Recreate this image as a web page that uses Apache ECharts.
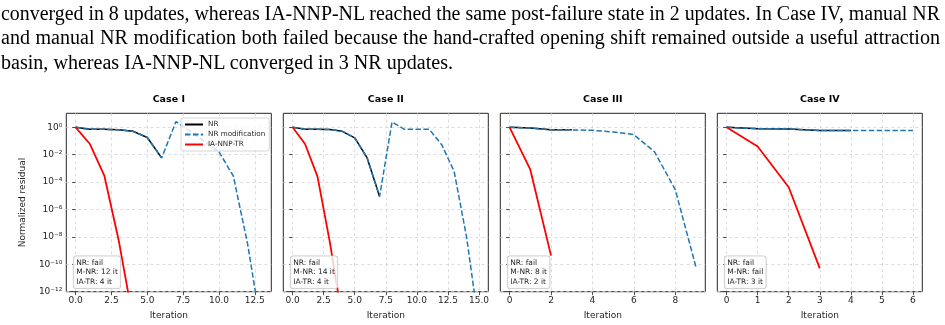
<!DOCTYPE html>
<html>
<head>
    <meta charset="utf-8">
    <title>Residual convergence</title>
    <script src="https://cdn.jsdelivr.net/npm/echarts@6.0.0/dist/echarts.min.js"></script>
    <style>
        html, body { margin: 0; padding: 0; background: #fff; }
        #chart { position: absolute; left: 0; top: 0; width: 945px; height: 325px; }
        #para {
            position: absolute; left: 1px; top: 1px; width: 945px;
            font-family: "Liberation Serif", "DejaVu Serif", serif;
            font-size: 20px; line-height: 24.3px; color: #000; z-index: 2;
        }
        #para .ln { white-space: nowrap; height: 24.3px; }
        #para .ln span { display: inline-block; transform-origin: 0 0; }
    </style>
</head>
<body>
<div id="para">
    <div class="ln"><span>converged in 8 updates, whereas IA-NNP-NL reached the same post-failure state in 2 updates. In Case IV, manual NR</span></div>
    <div class="ln"><span>and manual NR modification both failed because the hand-crafted opening shift remained outside a useful attraction</span></div>
    <div class="ln"><span>basin, whereas IA-NNP-NL converged in 3 NR updates.</span></div>
</div>
<div id="chart"></div>

<script>
    // 数据：每个 case 的归一化残差（按迭代次数）
    const caseNames = ['Case I', 'Case II', 'Case III', 'Case IV'];
    const caseNotes = [
        'NR: fail\nM-NR: 12 it\nIA-TR: 4 it',
        'NR: fail\nM-NR: 14 it\nIA-TR: 4 it',
        'NR: fail\nM-NR: 8 it\nIA-TR: 2 it',
        'NR: fail\nM-NR: fail\nIA-TR: 3 it'
    ];

    const nrCase1 = [1, 0.71, 0.71, 0.65, 0.51, 0.18, 5.8e-3];
    const modCase1 = [1, 0.71, 0.71, 0.65, 0.51, 0.18, 5.8e-3, 2.6, 0.5, 0.09, 1.6e-2, 2.8e-4, 3e-9, 1e-15];
    const trCase1 = [1, 6e-2, 3e-4, 6e-9, 1e-14];

    const nrCase2 = [1, 0.71, 0.71, 0.68, 0.51, 0.17, 5.8e-3, 9e-6];
    const modCase2 = [1, 0.71, 0.71, 0.68, 0.51, 0.17, 5.8e-3, 9e-6, 2.45, 0.71, 0.71, 0.71, 5.4e-2, 6e-4, 1e-8, 3e-15];
    const trCase2 = [1, 6e-2, 2.6e-4, 4e-9, 1e-14];

    const nrCase3 = [1, 0.89, 0.65, 0.65];
    const modCase3 = [1, 0.89, 0.65, 0.65, 0.6, 0.46, 0.29, 1.6e-2, 2.8e-5, 6.3e-11];
    const trCase3 = [1, 8e-4, 4.3e-10];

    const nrCase4 = [1, 0.79, 0.76, 0.58, 0.58];
    const modCase4 = [1, 0.79, 0.76, 0.58, 0.58, 0.58, 0.58];
    const trCase4 = [1, 4e-2, 4.2e-5, 5e-11];

    const xTicks1 = [0, 2.5, 5, 7.5, 10, 12.5];
    const xTicks2 = [0, 2.5, 5, 7.5, 10, 12.5, 15];
    const xTicks3 = [0, 2, 4, 6, 8];
    const xTicks4 = [0, 1, 2, 3, 4, 5, 6];
    const yTicks = [1e-12, 1e-10, 1e-8, 1e-6, 1e-4, 1e-2, 1];

    const nrAll = [nrCase1, nrCase2, nrCase3, nrCase4];
    const modAll = [modCase1, modCase2, modCase3, modCase4];
    const trAll = [trCase1, trCase2, trCase3, trCase4];
    const xTicksAll = [xTicks1, xTicks2, xTicks3, xTicks4];

    // 布局
    const FONT = 'DejaVu Sans';
    const INK = '#262626';
    const gridLefts = [66.3, 283.3, 500.3, 717.3];
    const gridTop = 113.3, gridW = 205, gridH = 178.4;

    // 文本行宽度调整（模拟原图的两端对齐）
    (function fitParagraph() {
        const spans = document.querySelectorAll('#para .ln span');
        const w3 = spans[2].getBoundingClientRect().width;
        const k = 452 / w3;
        spans[2].style.transform = 'scaleX(' + k + ')';
        [0, 1].forEach(function (i) {
            const s = spans[i];
            const w = s.getBoundingClientRect().width;
            const n = (s.textContent.match(/ /g) || []).length;
            if (w * k < 939) {
                s.style.wordSpacing = ((939 / k - w) / n) + 'px';
                s.style.transform = 'scaleX(' + k + ')';
            } else {
                s.style.transform = 'scaleX(' + (939 / w) + ')';
            }
        });
    })();

    const supMap = { '-': '⁻', '0': '⁰', '1': '¹', '2': '²', '3': '³', '4': '⁴', '5': '⁵', '6': '⁶', '7': '⁷', '8': '⁸', '9': '⁹' };
    function powLabel(v) {
        const e = String(Math.round(Math.log10(v)));
        return '10' + e.split('').map(c => supMap[c]).join('');
    }

    const pairs = arr => arr.map((v, i) => [i, v]);
    const tickLine = { color: INK, width: 0.8 };
    const gridLine = { type: [3, 3], color: '#d4d4d4', width: 0.8 };

    const grid = [], xAxis = [], yAxis = [], series = [], graphic = [];
    for (let i = 0; i < 4; i++) {
        const nMax = modAll[i].length - 1;
        grid.push({
            left: gridLefts[i], top: gridTop, width: gridW, height: gridH,
            show: true, borderColor: INK, borderWidth: 1, backgroundColor: 'transparent'
        });
        xAxis.push({
            gridIndex: i, type: 'value',
            min: -0.05 * nMax, max: 1.05 * nMax,
            axisLine: { show: false },
            axisTick: { show: true, length: 3.5, lineStyle: tickLine, customValues: xTicksAll[i] },
            axisLabel: {
                customValues: xTicksAll[i], fontSize: 9, fontFamily: FONT, color: INK, margin: 4,
                formatter: v => (i < 2 ? v.toFixed(1) : String(v))
            },
            splitLine: { show: true, lineStyle: gridLine },
            name: 'Iteration', nameLocation: 'middle', nameGap: 19,
            nameTextStyle: { fontSize: 9, fontFamily: FONT, color: INK }
        });
        yAxis.push({
            gridIndex: i, type: 'log', logBase: 10, min: 1e-12, max: 10.5,
            axisLine: { show: false },
            axisTick: { show: true, length: 3.5, lineStyle: tickLine, customValues: yTicks },
            axisLabel: {
                show: i === 0, customValues: yTicks, formatter: powLabel,
                fontSize: 9, fontFamily: FONT, color: INK, margin: 4
            },
            splitLine: { show: true, lineStyle: gridLine },
            name: i === 0 ? 'Normalized residual' : '',
            nameLocation: 'middle', nameRotate: 90, nameGap: 39,
            nameTextStyle: { fontSize: 9, fontFamily: FONT, color: INK }
        });
        series.push({
            name: 'NR', type: 'line', xAxisIndex: i, yAxisIndex: i,
            data: pairs(nrAll[i]), symbol: 'none', animation: false,
            itemStyle: { color: '#000000' }, lineStyle: { color: '#000000', width: 1.5 }
        });
        series.push({
            name: 'NR modification', type: 'line', xAxisIndex: i, yAxisIndex: i,
            data: pairs(modAll[i]), symbol: 'none', animation: false,
            itemStyle: { color: '#1f77b4' }, lineStyle: { color: '#1f77b4', width: 1.5, type: [5.5, 2.4] }
        });
        series.push({
            name: 'IA-NNP-TR', type: 'line', xAxisIndex: i, yAxisIndex: i,
            data: pairs(trAll[i]), symbol: 'none', animation: false,
            itemStyle: { color: '#ff0000' }, lineStyle: { color: '#ff0000', width: 1.8 }
        });
        graphic.push({
            type: 'text', x: gridLefts[i] + gridW / 2, y: 100, silent: true,
            style: { text: caseNames[i], font: 'bold 9.5px ' + FONT, fill: '#000', align: 'center', verticalAlign: 'middle' }
        });
        graphic.push({
            type: 'text', x: gridLefts[i] + 7.4, y: 256.3, z: 10, silent: true,
            style: {
                text: caseNotes[i], font: '7.5px ' + FONT, lineHeight: 9.3, fill: INK,
                backgroundColor: 'rgba(255,255,255,0.8)', borderColor: '#c8c8c8', borderWidth: 0.8,
                borderRadius: 2.5, padding: [2, 2.5, 2, 2.5]
            }
        });
    }

    const chart = echarts.init(document.getElementById('chart'));
    chart.setOption({
        animation: false,
        textStyle: { fontFamily: FONT },
        legend: {
            data: ['NR', 'NR modification', 'IA-NNP-TR'],
            orient: 'vertical', left: 181, top: 118,
            itemWidth: 18, itemHeight: 8, itemGap: 3,
            padding: [3, 4, 3, 3],
            itemStyle: { opacity: 0 },
            backgroundColor: 'rgba(255,255,255,0.8)', borderColor: '#cccccc', borderWidth: 0.8, borderRadius: 2.5,
            textStyle: { fontSize: 7.2, color: INK, fontFamily: FONT },
            selectedMode: false
        },
        grid: grid,
        xAxis: xAxis,
        yAxis: yAxis,
        series: series,
        graphic: graphic
    });
</script>
</body>
</html>
